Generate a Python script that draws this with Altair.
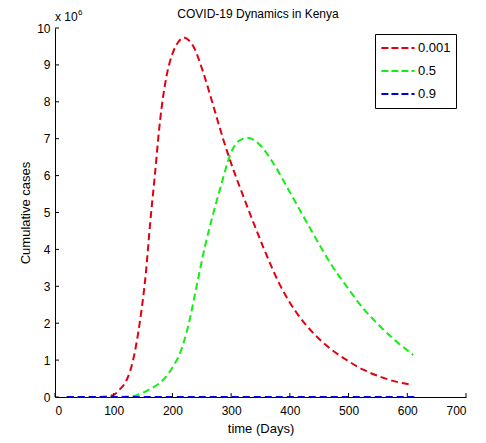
import altair as alt
import pandas as pd

# ---- data ----
red_days = [20, 60, 80, 99, 110, 122, 133, 145, 155, 162, 170, 179, 190, 200, 210, 219,
            236, 253, 270, 287, 304, 321, 335, 355, 383, 412, 440, 468, 497, 525, 554,
            582, 609]
red_vals = [0.0, 0.0, 0.005, 0.05, 0.2, 0.46, 1.0, 2.09, 3.4, 4.7, 6.0, 7.5, 8.7, 9.3,
            9.62, 9.74, 9.49, 8.77, 7.87, 6.96, 6.15, 5.43, 4.85, 4.05, 3.04, 2.27, 1.73,
            1.32, 1.0, 0.74, 0.55, 0.41, 0.33]

green_days = [20, 100, 120, 139, 160, 184, 200, 213, 228, 241, 255, 270, 284, 298, 315,
              329, 349, 372, 400, 420, 446, 468, 497, 525, 554, 582, 610]
green_vals = [0.0, 0.0, 0.01, 0.05, 0.2, 0.46, 0.8, 1.19, 2.0, 2.99, 4.05, 5.0, 5.8, 6.55,
              6.96, 7.02, 6.83, 6.33, 5.55, 4.98, 4.25, 3.65, 2.99, 2.4, 1.91, 1.5, 1.14]

blue_days = [20, 200, 400, 612]
blue_vals = [0.0, 0.0, 0.0, 0.0]

series = ["0.001", "0.5", "0.9"]
colors = ["#e0000f", "#11ee11", "#0000e0"]
widths = [2, 2, 3]

x_ticks = [0, 100, 200, 300, 400, 500, 600, 700]
y_ticks = [0, 1, 2, 3, 4, 5, 6, 7, 8, 9, 10]

rows = []
for name, ds, vs in [(series[0], red_days, red_vals),
                     (series[1], green_days, green_vals),
                     (series[2], blue_days, blue_vals)]:
    for d, v in zip(ds, vs):
        rows.append({"series": name, "day": d, "cases": v})
df = pd.DataFrame(rows)

FONT = "Liberation Sans"
xscale = alt.Scale(domain=[0, 700], nice=False)
yscale = alt.Scale(domain=[0, 10], nice=False)

x_axis = alt.Axis(values=x_ticks, title="time (Days)", tickSize=0, labelPadding=8,
                  titlePadding=6, labelOverlap=False, grid=False, titleFontSize=13)
y_axis = alt.Axis(values=y_ticks, title="Cumulative cases", tickSize=0, labelPadding=5,
                  titlePadding=4, labelOverlap=False, grid=False, titleFontSize=13)

lines = alt.Chart(df).mark_line(strokeDash=[7, 4], interpolate="monotone").encode(
    x=alt.X("day:Q", scale=xscale, axis=x_axis),
    y=alt.Y("cases:Q", scale=yscale, axis=y_axis),
    color=alt.Color("series:N", scale=alt.Scale(domain=series, range=colors),
                    legend=alt.Legend(title=None, orient="none", legendX=320, legendY=6,
                                      symbolType="stroke", symbolStrokeWidth=2,
                                      symbolDash=[7, 3], symbolSize=1100, clipHeight=18,
                                      labelFontSize=13, labelFont=FONT, labelColor="black",
                                      strokeColor="black", padding=5, rowPadding=5,
                                      fillColor="white", labelOffset=2)),
    strokeWidth=alt.StrokeWidth("series:N", scale=alt.Scale(domain=series, range=widths),
                                legend=None),
    detail="series:N",
)

xt = pd.DataFrame({"v": x_ticks})
yt = pd.DataFrame({"v": y_ticks})
xticks = alt.Chart(xt).mark_rule(color="black", strokeWidth=1).encode(
    x=alt.X("v:Q", scale=xscale, axis=x_axis), y=alt.value(369), y2=alt.value(365))
yticks = alt.Chart(yt).mark_rule(color="black", strokeWidth=1).encode(
    y=alt.Y("v:Q", scale=yscale, axis=y_axis), x=alt.value(0), x2=alt.value(4))

title = alt.Chart(pd.DataFrame({"t": ["COVID-19 Dynamics in Kenya"]})).mark_text(
    font=FONT, fontSize=12, color="black", align="center", baseline="middle").encode(
    text="t:N", x=alt.value(203), y=alt.value(-14))
exp1 = alt.Chart(pd.DataFrame({"t": ["x 10"]})).mark_text(
    font=FONT, fontSize=12, color="black", align="left", baseline="middle").encode(
    text="t:N", x=alt.value(0), y=alt.value(-11))
exp2 = alt.Chart(pd.DataFrame({"t": ["6"]})).mark_text(
    font=FONT, fontSize=8, color="black", align="left", baseline="middle").encode(
    text="t:N", x=alt.value(23), y=alt.value(-15))

chart = alt.layer(lines, xticks, yticks, title, exp1, exp2).properties(
    width=411, height=369,
    background="white",
    autosize=alt.AutoSizeParams(type="none"),
    padding={"left": 47, "top": 20, "right": 10, "bottom": 40},
).configure_view(stroke=None).configure_axis(
    grid=False, domainColor="black", labelColor="black", titleColor="black",
    labelFont=FONT, titleFont=FONT, labelFontSize=12, titleFontSize=12,
    titleFontWeight="normal",
)

chart.save("out.html", embed_options={"renderer": "svg", "actions": False})
